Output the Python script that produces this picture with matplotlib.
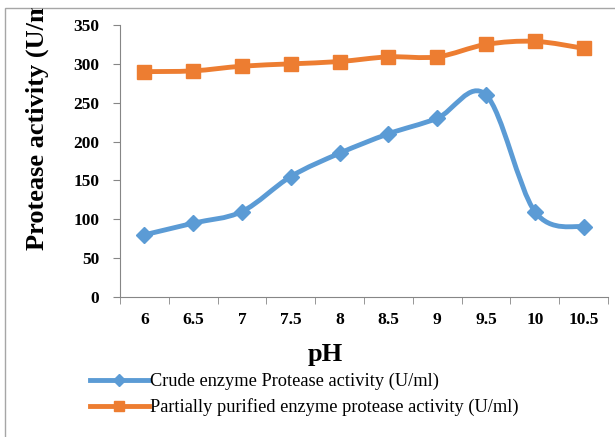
import matplotlib.pyplot as plt
import numpy as np
from matplotlib.path import Path
from matplotlib.patches import PathPatch, Rectangle
from matplotlib.lines import Line2D
from matplotlib.transforms import Bbox

plt.rcParams['font.family'] = ['Liberation Serif', 'DejaVu Serif']

# data
ph_labels = ['6', '6.5', '7', '7.5', '8', '8.5', '9', '9.5', '10', '10.5']
crude = [80, 95, 110, 155, 185, 210, 230, 260, 110, 90]
purified = [290, 291, 297, 300, 303, 309, 309, 325, 329, 320]

blue = '#5B9BD5'
orange = '#ED7D31'
grey = '#868686'


def smooth_path(xs, ys):
    # Excel-like smoothed line: Catmull-Rom segments as cubic Bezier curves
    pts = np.column_stack([xs, ys]).astype(float)
    verts = [pts[0]]
    codes = [Path.MOVETO]
    n = len(pts)
    for i in range(n - 1):
        p0 = pts[i - 1] if i > 0 else pts[i]
        p1 = pts[i]
        p2 = pts[i + 1]
        p3 = pts[i + 2] if i + 2 < n else pts[i + 1]
        c1 = p1 + (p2 - p0) / 6.0
        c2 = p2 - (p3 - p1) / 6.0
        verts += [c1, c2, p2]
        codes += [Path.CURVE4] * 3
    return Path(verts, codes)


fig = plt.figure(figsize=(6.15, 4.37), dpi=100)
ax = fig.add_axes([120 / 615, 1 - 297 / 437, 488 / 615, 272 / 437])

x = np.arange(len(ph_labels))
for vals, col, mk, ms in [(crude, blue, 'D', 8), (purified, orange, 's', 10)]:
    ax.add_patch(PathPatch(smooth_path(x, vals), facecolor='none',
                           edgecolor=col, linewidth=3.5, capstyle='round',
                           joinstyle='round'))
    ax.plot(x, vals, linestyle='none', marker=mk, markersize=ms, color=col)

ax.set_xlim(-0.5, len(ph_labels) - 0.5)
ax.set_ylim(0, 350)
ax.set_yticks(np.arange(0, 351, 50))
ax.set_xticks(x)
ax.set_xticklabels(ph_labels)
ax.set_xticks(np.arange(-0.5, len(ph_labels)), minor=True)

for s in ['top', 'right']:
    ax.spines[s].set_visible(False)
for s in ['left', 'bottom']:
    ax.spines[s].set_color(grey)
    ax.spines[s].set_linewidth(0.8)

ax.tick_params(axis='x', which='major', length=0, pad=11, labelsize=12.5)
ax.tick_params(axis='x', which='minor', length=5, color=grey, direction='out')
ax.tick_params(axis='y', length=5, color=grey, direction='out', pad=10, labelsize=12.5)
for lab in ax.get_xticklabels() + ax.get_yticklabels():
    lab.set_fontweight('bold')

fig.text(325 / 615, 1 - 355 / 437, 'pH', ha='center', va='center',
         fontsize=19, fontweight='bold')
ylab = fig.text(37 / 615, 1 - 117 / 437, 'Protease activity (U/ml)', ha='center',
                va='center', rotation=90, fontsize=19, fontweight='bold')
# the label runs past the chart border at the top and is cut there
ylab.set_clip_box(Bbox([[0, 0], [615, 437 - 8]]))
ylab.set_clip_on(True)

# chart border
fig.patches.append(Rectangle((5 / 615, -0.1), 2, 1.1 - 8 / 437,
                             transform=fig.transFigure, fill=False,
                             edgecolor='#A6A6A6', linewidth=1))

handles = [
    Line2D([], [], color=blue, linewidth=3.5, marker='D', markersize=6),
    Line2D([], [], color=orange, linewidth=3.5, marker='s', markersize=7),
]
fig.legend(handles,
           ['Crude enzyme Protease activity (U/ml)',
            'Partially purified enzyme protease activity (U/ml)'],
           loc='upper left', bbox_to_anchor=(90 / 615, 1 - 373 / 437),
           frameon=False, fontsize=13.2, handlelength=3.2, handletextpad=0.1,
           labelspacing=0.45, borderaxespad=0, borderpad=0)

fig.savefig('out.png', dpi=100)
